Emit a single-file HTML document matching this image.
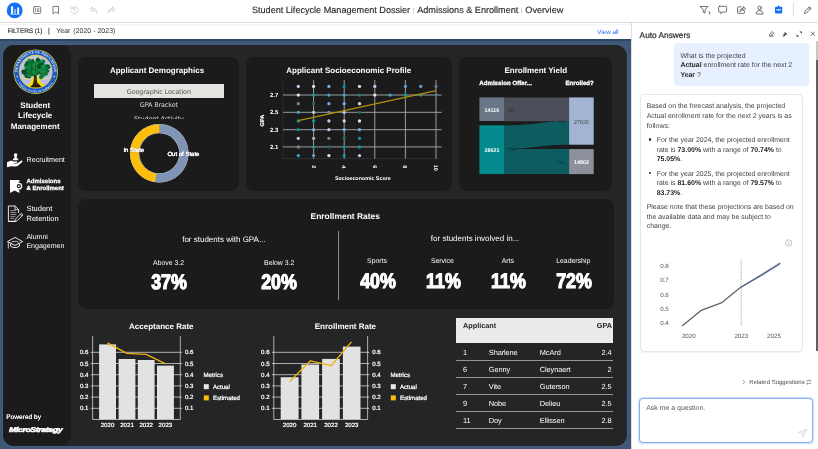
<!DOCTYPE html>
<html lang="en">
<head>
<meta charset="utf-8">
<title>Student Lifecycle Management Dossier</title>
<style>
*{box-sizing:border-box;margin:0;padding:0}
html,body{width:818px;height:449px;overflow:hidden;background:#fff}
body{font-family:"Liberation Sans",Arial,sans-serif;color:#fff;position:relative;text-rendering:geometricPrecision}
.abs{position:absolute}
#top{left:0;top:0;width:818px;height:23px;background:#fff;border-bottom:1px solid #dcdcdc}
#title{left:0;top:0;width:818px;height:22px;line-height:21px;text-align:center;color:#2b2b2b;font-size:9.1px;white-space:nowrap;padding-right:2.8px;-webkit-text-stroke:0.15px #2b2b2b}
#title .sep{color:#a8a8a8;font-size:6px;position:relative;top:-1.2px;padding:0 2.75px;-webkit-text-stroke:0}
#filt{left:0;top:23px;width:631px;height:16px;background:#fff}
#filt .f1{left:7.5px;top:0.6px;line-height:16px;font-size:6.6px;color:#333;letter-spacing:-0.16px;-webkit-text-stroke:0.15px #333}
#filt .f2{left:56.3px;top:0.5px;line-height:16px;font-size:7px;color:#333;white-space:pre}
#filt .va{right:12.3px;top:2.4px;line-height:15px;font-size:6.25px;color:#1f6bf0}
#band{left:0;top:39px;width:631px;height:410px;background:#3f5878}
#band:before{content:"";position:absolute;left:0;top:0;width:100%;height:2px;background:#2d4768}
#dash{left:3.3px;top:45px;width:623.5px;height:401px;background:#232527;border-radius:11px;box-shadow:0 0 0 0.6px #4a648a}
#side{left:3.3px;top:45px;width:67.5px;height:401px;background:#1b1b1b;border-radius:11px}
.panel{background:#1b1b1b;border-radius:8px}
.ttl{font-weight:bold;font-size:8px;text-align:center;white-space:nowrap;line-height:10px}

.sbt{font-weight:bold;font-size:8px;line-height:10.5px;text-align:center;color:#fff}
.nav{color:#fff;white-space:nowrap;line-height:9px}
.navb{color:#fff;white-space:nowrap;font-weight:bold;font-size:6px;line-height:7.5px;-webkit-text-stroke:0.25px #fff}

.sel{font-size:6.5px;text-align:center;white-space:nowrap;font-family:"DejaVu Sans","Liberation Sans",sans-serif;letter-spacing:-0.15px}

.hv{font-weight:bold;font-size:6.05px;letter-spacing:0.05px;line-height:7px;white-space:nowrap;color:#fff;-webkit-text-stroke:0.3px #fff}
.sub{font-size:8px;line-height:10px;text-align:center;white-space:nowrap;color:#fff}
.kl{font-size:6.9px;line-height:8px;text-align:center;white-space:nowrap;color:#fff}
.kv{text-align:center;white-space:nowrap;line-height:24px;height:24px}
.kv span{display:inline-block;font-weight:bold;font-size:21px;transform:scaleX(0.85);-webkit-text-stroke:1.2px #fff;color:#fff;letter-spacing:0px}

.th{font-weight:bold;font-size:7.3px;line-height:9px;color:#222;white-space:nowrap}
.td{font-size:7.4px;line-height:9px;color:#fff;white-space:nowrap;letter-spacing:-0.1px}

.rt{font-size:6.95px;line-height:9.4px;color:#424242;white-space:nowrap}
.rt b{color:#222}
/* right panel */
#rp{left:631px;top:23px;width:187px;height:426px;background:#fff;border-left:1px solid #dedede;color:#333}
</style>
</head>
<body><div id="root" style="position:absolute;left:0;top:0;width:818px;height:449px;will-change:transform">
<!-- top toolbar -->
<div id="top" class="abs"></div>
<div id="title" class="abs">Student Lifecycle Management Dossier<span class="sep">|</span>Admissions &amp; Enrollment<span class="sep">|</span>Overview</div>

<!-- toolbar icons -->
<svg class="abs" style="left:0;top:0" width="125" height="22" viewBox="0 0 125 22">
  <circle cx="14.7" cy="10.4" r="7.9" fill="#1170fa"/>
  <g fill="#fff">
    <rect x="11" y="6.3" width="2.1" height="7.6" rx="0.3"/>
    <rect x="17.2" y="7.4" width="1.9" height="6.5" rx="0.3"/>
    <rect x="14.35" y="9.3" width="1.4" height="1.1"/>
    <rect x="14.35" y="10.9" width="1.4" height="1.1"/>
    <rect x="14.35" y="12.5" width="1.4" height="1.4"/>
    <rect x="10" y="14.1" width="9.8" height="0.55" opacity="0.85"/>
  </g>
  <g stroke="#4a4a4a" stroke-width="0.7" fill="none" stroke-linejoin="round" stroke-linecap="round">
    <rect x="33.5" y="6.6" width="7.2" height="7" rx="1.2"/>
    <path d="M35.4 8.6 V11.6 M37.2 8.8 H38.9 M37.2 10.1 H38.9 M37.2 11.4 H38.9" stroke-width="0.65"/>
    <path d="M53.3 6.5 H58.5 V13.7 L55.9 11.9 L53.3 13.7 Z"/>
  </g>
  <g stroke="#c9c9c9" stroke-width="0.8" fill="none" stroke-linejoin="round" stroke-linecap="round">
    <path d="M71.6 8.4 A 3.5 3.5 0 1 1 71.2 11.6"/>
    <path d="M70.6 6.9 L71.5 8.7 L73.3 8.2"/>
    <path d="M74.5 8.3 V10.3 L76 11.2"/>
    <path d="M92.6 7 L89.9 9.3 L92.6 11.6 V10.2 C94.6 10.2 96 10.9 96.8 12.8 C96.8 10 95.2 8.5 92.6 8.4 Z"/>
    <path d="M112.5 7 L115.2 9.3 L112.5 11.6 V10.2 C110.5 10.2 109.1 10.9 108.3 12.8 C108.3 10 109.9 8.5 112.5 8.4 Z"/>
  </g>
</svg>
<svg class="abs" style="left:693px;top:0" width="125" height="22" viewBox="693 0 125 22">
  <g stroke="#3c3c3c" stroke-width="0.75" fill="none" stroke-linejoin="round" stroke-linecap="round">
    <!-- filter -->
    <path d="M700.4 6.5 H707.8 L705 9.9 V13.2 L703.2 12.2 V9.9 Z"/>
    <!-- comment -->
    <path d="M719.6 6.3 H725.6 Q726.6 6.3 726.6 7.3 V11 Q726.6 12 725.6 12 H722.6 L720.9 13.7 V12 H719.6 Q718.6 12 718.6 11 V7.3 Q718.6 6.3 719.6 6.3 Z"/>
    <!-- share -->
    <path d="M741 6.8 H738.6 Q737.6 6.8 737.6 7.8 V12.4 Q737.6 13.4 738.6 13.4 H743.6 Q744.6 13.4 744.6 12.4 V11.4"/>
    <path d="M740 11.3 C740.2 9.4 741.4 8.3 743.2 8.2 V6.6 L745.6 8.7 L743.2 10.8 V9.4 C741.8 9.4 740.8 10 740 11.3 Z"/>
    <!-- user -->
    <circle cx="759.6" cy="7.9" r="1.75"/>
    <path d="M756.2 13.6 C756.2 11.6 757.6 10.6 759.6 10.6 C761.6 10.6 763 11.6 763 13.6 Z"/>
    <!-- pencil -->
    <path d="M804.6 13.2 L805.1 11.2 L809.6 6.7 L811.1 8.2 L806.6 12.7 Z M808.6 7.7 L810.1 9.2"/>
  </g>
  <text x="708.2" y="14.1" font-family="'Liberation Sans',Arial,sans-serif" font-size="4.2" font-weight="bold" fill="#3c3c3c">1</text>
  <!-- bot (active) -->
  <g fill="#1170fa">
    <rect x="775" y="6.7" width="7.2" height="6.9" rx="1.1"/>
    <rect x="777.8" y="5.7" width="1.6" height="1.4"/>
  </g>
  <rect x="776.5" y="9.1" width="4.2" height="1.5" rx="0.4" fill="#fff"/>
  <rect x="777.1" y="9.5" width="0.8" height="0.7" fill="#1170fa"/><rect x="779.3" y="9.5" width="0.8" height="0.7" fill="#1170fa"/>
  <line x1="793.4" y1="3" x2="793.4" y2="16.6" stroke="#c8c8c8" stroke-width="0.7"/>
</svg>
<!-- filter bar -->
<div id="filt" class="abs">
  <div class="abs f1">FILTERS (1)</div>
  <div class="abs f1" style="left:48px;font-size:7px">|</div>
  <div class="abs f2">Year<span style="margin-left:2.9px">(2020 - 2023)</span></div>
  <div class="abs va">View all</div>
</div>
<div class="abs" style="left:0;top:23.5px;width:818px;height:2px;background:linear-gradient(rgba(0,0,0,0.06),rgba(0,0,0,0))"></div>
<div id="band" class="abs"></div>
<div id="dash" class="abs"></div>
<div id="side" class="abs"></div>


<!-- sidebar content -->
<svg class="abs" style="left:4px;top:45px" width="67" height="60" viewBox="4 45 67 60">
  <defs>
    <clipPath id="sealclip"><circle cx="35.7" cy="71.7" r="16.2"/></clipPath>
    <path id="arcTop" d="M 17.3 71.7 A 18.4 18.4 0 0 1 54.1 71.7"/>
    <path id="arcBot" d="M 14.9 71.7 A 20.8 20.8 0 0 0 56.5 71.7"/>
  </defs>
  <circle cx="35.7" cy="71.7" r="22.3" fill="#e6d326"/>
  <circle cx="35.7" cy="71.7" r="21.6" fill="#1d5cc4"/>
  <circle cx="35.7" cy="71.7" r="16.9" fill="#e6d326"/>
  <circle cx="35.7" cy="71.7" r="16.2" fill="#bcbcea"/>
  <g clip-path="url(#sealclip)">
    <line x1="35.7" y1="80" x2="19.4" y2="77.7" stroke="#f3e36a" stroke-width="0.9"/><line x1="35.7" y1="80" x2="20.5" y2="70.3" stroke="#f3e36a" stroke-width="0.9"/><line x1="35.7" y1="80" x2="23.0" y2="63.6" stroke="#f3e36a" stroke-width="0.9"/><line x1="35.7" y1="80" x2="26.5" y2="58.4" stroke="#f3e36a" stroke-width="0.9"/><line x1="35.7" y1="80" x2="30.9" y2="55.1" stroke="#f3e36a" stroke-width="0.9"/><line x1="35.7" y1="80" x2="35.7" y2="54.0" stroke="#f3e36a" stroke-width="0.9"/><line x1="35.7" y1="80" x2="40.5" y2="55.1" stroke="#f3e36a" stroke-width="0.9"/><line x1="35.7" y1="80" x2="44.9" y2="58.4" stroke="#f3e36a" stroke-width="0.9"/><line x1="35.7" y1="80" x2="48.4" y2="63.6" stroke="#f3e36a" stroke-width="0.9"/><line x1="35.7" y1="80" x2="50.9" y2="70.3" stroke="#f3e36a" stroke-width="0.9"/><line x1="35.7" y1="80" x2="52.0" y2="77.7" stroke="#f3e36a" stroke-width="0.9"/>
    <path d="M 26 88 L 34.6 76 L 37 76 L 45.6 88 Z" fill="#f2dc0c"/>
    <path d="M 29.6 87.4 L 33.6 83.4 L 38.2 83.4 L 42.2 87.4 Z" fill="#241c06"/>
    <path d="M 33.6 84 C 35 80 35.2 76 33.4 71.5 L 31 67 M 35.2 76 C 36.4 72.5 38.4 70 41.5 67.5 M 34.8 74 L 35.6 64" stroke="#3b2a10" stroke-width="1.5" fill="none" stroke-linecap="round"/>
    <path d="M 33 85 C 34.6 81 34.8 78 34 74.5 L 36.8 74.5 C 36.4 78 36.8 81.5 38.2 85 Z" fill="#33260c"/>
    <circle cx="28.0" cy="62.9" r="2.2" fill="#064a24"/><circle cx="44.1" cy="70.0" r="2.3" fill="#0b8a3c"/><circle cx="38.9" cy="67.0" r="1.9" fill="#0a8038"/><circle cx="33.1" cy="70.7" r="1.7" fill="#0a8038"/><circle cx="31.6" cy="70.9" r="2.3" fill="#0c8c40"/><circle cx="41.9" cy="76.2" r="1.6" fill="#0a5a2c"/><circle cx="36.1" cy="69.0" r="2.3" fill="#0a8038"/><circle cx="37.6" cy="59.1" r="1.6" fill="#08743a"/><circle cx="32.7" cy="74.3" r="2.0" fill="#0a8038"/><circle cx="41.0" cy="77.7" r="1.7" fill="#0c8c40"/><circle cx="33.6" cy="70.2" r="1.6" fill="#08743a"/><circle cx="35.2" cy="70.2" r="2.2" fill="#0b8a3c"/><circle cx="27.1" cy="64.1" r="1.6" fill="#066432"/><circle cx="39.4" cy="62.7" r="1.8" fill="#0a5a2c"/><circle cx="30.9" cy="69.5" r="1.7" fill="#0b8a3c"/><circle cx="42.7" cy="67.0" r="1.9" fill="#064a24"/><circle cx="37.5" cy="63.2" r="2.0" fill="#0b8a3c"/><circle cx="25.7" cy="71.2" r="2.1" fill="#0a8038"/><circle cx="40.1" cy="71.9" r="2.2" fill="#0a5a2c"/><circle cx="31.8" cy="73.5" r="2.0" fill="#0a5a2c"/><circle cx="44.3" cy="74.2" r="2.2" fill="#0f9a48"/><circle cx="47.9" cy="71.0" r="1.6" fill="#066432"/><circle cx="28.5" cy="68.3" r="1.6" fill="#0f9a48"/><circle cx="43.9" cy="65.5" r="1.8" fill="#066432"/><circle cx="31.9" cy="73.1" r="2.1" fill="#0f9a48"/><circle cx="40.5" cy="68.7" r="1.5" fill="#064a24"/><circle cx="37.5" cy="68.1" r="2.2" fill="#066432"/><circle cx="39.6" cy="63.0" r="1.9" fill="#0b8a3c"/><circle cx="45.7" cy="67.8" r="2.2" fill="#066432"/><circle cx="38.0" cy="66.0" r="2.2" fill="#08743a"/><circle cx="28.1" cy="62.4" r="1.6" fill="#0c8c40"/><circle cx="33.9" cy="70.3" r="1.9" fill="#08743a"/><circle cx="23.6" cy="71.7" r="2.3" fill="#064a24"/><circle cx="27.5" cy="70.7" r="2.2" fill="#0a5a2c"/><circle cx="34.5" cy="71.3" r="2.3" fill="#0e9645"/><circle cx="26.7" cy="75.7" r="2.4" fill="#0a5a2c"/><circle cx="39.2" cy="65.9" r="1.9" fill="#064a24"/><circle cx="38.2" cy="59.7" r="1.8" fill="#066432"/><circle cx="32.3" cy="61.3" r="2.2" fill="#066432"/><circle cx="26.2" cy="65.9" r="2.3" fill="#0f9a48"/><circle cx="37.1" cy="60.7" r="1.8" fill="#066432"/><circle cx="30.2" cy="62.8" r="1.5" fill="#064a24"/><circle cx="36.8" cy="63.5" r="1.7" fill="#0f9a48"/><circle cx="39.9" cy="61.6" r="2.2" fill="#066432"/><circle cx="34.7" cy="70.3" r="2.3" fill="#0c8c40"/><circle cx="28.9" cy="76.2" r="2.3" fill="#0a5a2c"/><circle cx="48.2" cy="67.3" r="2.0" fill="#064a24"/><circle cx="41.0" cy="68.3" r="1.8" fill="#0a5a2c"/><circle cx="35.2" cy="71.2" r="2.1" fill="#0c8c40"/><circle cx="41.1" cy="76.5" r="2.0" fill="#0c8c40"/><circle cx="32.8" cy="71.6" r="2.3" fill="#0f9a48"/><circle cx="35.5" cy="67.4" r="1.6" fill="#0a5a2c"/><circle cx="32.2" cy="66.1" r="2.2" fill="#08743a"/><circle cx="34.3" cy="67.5" r="1.9" fill="#0a8038"/><circle cx="41.9" cy="76.9" r="1.6" fill="#08743a"/><circle cx="26.7" cy="69.6" r="1.9" fill="#066432"/><circle cx="28.7" cy="74.0" r="2.0" fill="#0a8038"/><circle cx="34.3" cy="63.1" r="1.8" fill="#0f9a48"/><circle cx="43.1" cy="61.5" r="2.1" fill="#064a24"/><circle cx="34.4" cy="69.9" r="2.1" fill="#0e9645"/><circle cx="33.3" cy="71.4" r="2.4" fill="#0f9a48"/><circle cx="46.9" cy="66.5" r="1.9" fill="#064a24"/><circle cx="32.8" cy="71.3" r="2.0" fill="#0a5a2c"/><circle cx="47.9" cy="66.2" r="2.0" fill="#066432"/><circle cx="40.2" cy="61.6" r="1.8" fill="#066432"/><circle cx="26.8" cy="65.7" r="1.6" fill="#0c8c40"/><circle cx="24.4" cy="73.0" r="1.9" fill="#0a5a2c"/><circle cx="43.2" cy="67.8" r="2.4" fill="#08743a"/><circle cx="30.8" cy="66.1" r="2.4" fill="#0a5a2c"/><circle cx="35.8" cy="70.0" r="2.4" fill="#0f9a48"/><circle cx="29.4" cy="69.1" r="1.9" fill="#0e9645"/><circle cx="29.1" cy="60.5" r="1.7" fill="#0b8a3c"/><circle cx="38.1" cy="60.0" r="1.5" fill="#064a24"/><circle cx="30.3" cy="67.1" r="1.9" fill="#0b8a3c"/><circle cx="36.0" cy="73.6" r="1.6" fill="#0f9a48"/><circle cx="33.2" cy="72.1" r="1.9" fill="#0e9645"/><circle cx="39.9" cy="69.1" r="1.8" fill="#066432"/><circle cx="27.7" cy="63.3" r="1.5" fill="#066432"/><circle cx="28.8" cy="75.3" r="2.0" fill="#0b8a3c"/><circle cx="45.0" cy="68.9" r="2.1" fill="#0e9645"/><circle cx="42.8" cy="64.2" r="1.5" fill="#0c8c40"/><circle cx="27.2" cy="64.2" r="2.4" fill="#0a5a2c"/><circle cx="43.1" cy="61.7" r="1.9" fill="#0a8038"/><circle cx="42.6" cy="64.9" r="2.2" fill="#0f9a48"/><circle cx="41.2" cy="61.8" r="1.9" fill="#0f9a48"/><circle cx="30.8" cy="63.5" r="1.8" fill="#08743a"/><circle cx="26.7" cy="69.8" r="1.9" fill="#066432"/><circle cx="28.0" cy="67.3" r="2.0" fill="#0b8a3c"/><circle cx="41.0" cy="70.7" r="2.2" fill="#0e9645"/><circle cx="34.9" cy="67.7" r="2.2" fill="#0e9645"/><circle cx="46.3" cy="68.7" r="1.5" fill="#0e9645"/><circle cx="37.7" cy="72.5" r="2.4" fill="#08743a"/><circle cx="46.4" cy="68.5" r="1.9" fill="#08743a"/><circle cx="29.7" cy="64.9" r="1.6" fill="#0a8038"/><circle cx="39.4" cy="69.6" r="1.8" fill="#0e9645"/><circle cx="34.0" cy="72.0" r="1.6" fill="#0c8c40"/><circle cx="38.9" cy="66.5" r="1.9" fill="#066432"/><circle cx="32.4" cy="62.6" r="1.8" fill="#066432"/><circle cx="39.5" cy="67.1" r="1.8" fill="#064a24"/><circle cx="32.7" cy="74.2" r="2.0" fill="#0a8038"/><circle cx="35.0" cy="72.0" r="1.7" fill="#0f9a48"/><circle cx="31.6" cy="68.4" r="1.7" fill="#066432"/><circle cx="28.5" cy="70.5" r="1.6" fill="#0b8a3c"/><circle cx="33.9" cy="66.7" r="2.1" fill="#0e9645"/><circle cx="41.6" cy="63.6" r="1.9" fill="#0c8c40"/><circle cx="41.9" cy="64.1" r="1.8" fill="#064a24"/><circle cx="46.3" cy="70.3" r="1.5" fill="#08743a"/><circle cx="43.4" cy="66.7" r="2.2" fill="#0e9645"/><circle cx="46.3" cy="73.6" r="1.9" fill="#0a8038"/><circle cx="42.1" cy="74.7" r="1.8" fill="#0a8038"/>
    <path d="M 27 69 L 33 74.5 M 43.5 68 L 37 74.5 M 35.6 63 L 35.4 73 M 31 64 L 34.6 70 M 40 63.5 L 36.4 70 M 24.5 73 L 31 73.6 M 46 72.5 L 39.5 73.6" stroke="#2e2a10" stroke-width="0.6" fill="none" stroke-linecap="round" opacity="0.8"/>
  </g>
  <text font-family="'Liberation Serif',serif" font-size="3.7" font-weight="bold" fill="#eef2ff" letter-spacing="0.12"><textPath href="#arcTop" startOffset="50%" text-anchor="middle">DEPARTMENT OF EDUCATION</textPath></text>
  <text font-family="'Liberation Serif',serif" font-size="2.6" font-weight="bold" fill="#e4eaff" letter-spacing="0.1"><textPath href="#arcBot" startOffset="50%" text-anchor="middle">UNITED STATES OF AMERICA</textPath></text>
  <circle cx="17.2" cy="76.5" r="0.7" fill="#e8ecff"/><circle cx="54.2" cy="76.5" r="0.7" fill="#e8ecff"/>
</svg>
<div class="abs sbt" style="left:3.2px;top:100.8px;width:64px">Student<br>Lifecycle<br>Management</div>

<!-- nav: recruitment -->
<svg class="abs" style="left:6px;top:152px" width="18" height="16" viewBox="6 152 18 16">
  <circle cx="15.6" cy="155" r="1.75" fill="#fff"/>
  <path d="M14.7 156 L16.5 156 L16.9 158.6 L18.2 158.6 L18.2 160.3 L13 160.3 L13 158.6 L14.3 158.6 Z" fill="#fff"/>
  <path d="M6.9 162.2 L9.4 161.2 C11 160.6 12.4 160.8 13.6 161.4 L16.6 161.4 C17.6 161.5 17.6 162.9 16.6 163 L13.6 163 L13.6 163.5 L17.2 163.4 L21 160.7 C22 160.1 23 161.2 22.2 162 L18.2 165.6 C17.4 166.3 16.6 166.5 15.6 166.5 L11.2 166.3 L7 167.2 Z" fill="#fff"/>
</svg>
<div class="abs nav" style="left:26.6px;top:156px;font-size:7.1px">Recruitment</div>

<!-- nav: admissions -->
<svg class="abs" style="left:9px;top:179px" width="15" height="15" viewBox="9 179 15 15">
  <path d="M10 179.9 L19.4 179.9 L19.4 182.0 A 4.45 4.45 0 0 0 19.4 190.4 L19.4 193.1 L14.7 190.6 L10 193.1 Z" fill="#fff"/>
  <circle cx="18.8" cy="186.2" r="2.8" fill="none" stroke="#fff" stroke-width="1.3"/>
  <circle cx="18.8" cy="186.2" r="0.9" fill="#fff"/>
</svg>
<div class="abs navb" style="left:26.5px;top:178.7px">Admissions<br>&amp; Enrollment</div>

<!-- nav: student retention -->
<svg class="abs" style="left:7px;top:204px" width="18" height="19" viewBox="7 204 18 19">
  <path d="M8.4 206 L15.2 206 L18.6 209.4 L18.6 213 M15.4 221.4 L8.4 221.4 Z M8.4 221.4 L8.4 206" stroke="#fff" stroke-width="0.9" fill="none" stroke-linejoin="round"/>
  <path d="M15 206.2 L15 209.6 L18.4 209.6" stroke="#fff" stroke-width="0.8" fill="none"/>
  <path d="M10.4 210.6 H15.6 M10.4 212.6 H16.4 M10.4 214.6 H16.4 M10.4 216.6 H15.4 M10.4 218.6 H14" stroke="#9a9a9a" stroke-width="0.95"/>
  <path d="M15.3 219.2 L21.2 213.3 L22.9 215 L17 220.9 L14.8 221.5 Z" fill="#1b1b1b" stroke="#fff" stroke-width="0.85" stroke-linejoin="round"/>
  <path d="M20.2 214.4 L21.8 216" stroke="#fff" stroke-width="0.7"/>
</svg>
<div class="abs nav" style="left:26.5px;top:203.9px;font-size:7.5px;line-height:10.1px">Student<br>Retention</div>

<!-- nav: alumni -->
<svg class="abs" style="left:6px;top:236px" width="18" height="14" viewBox="6 236 18 14">
  <path d="M7.4 241.6 L15 237.4 L22.7 241.6 L15 245.4 Z" stroke="#fff" stroke-width="0.9" fill="none" stroke-linejoin="round"/>
  <path d="M10.6 243.6 L10.6 246.2 C12.6 248 17.4 248 19.4 246.2 L19.4 243.6" stroke="#fff" stroke-width="0.9" fill="none"/>
  <path d="M11.4 242.2 C13.4 241 16.6 241 18.6 242.2" stroke="#fff" stroke-width="0.7" fill="none"/>
  <path d="M8.3 242.2 L8.3 248.6" stroke="#fff" stroke-width="0.8"/>
</svg>
<div class="abs nav" style="left:26.4px;top:232.8px;font-size:7.05px;line-height:9px;width:37.8px;overflow:hidden">Alumni<br>Engagement</div>

<div class="abs" style="left:6.2px;top:413.6px;font-size:6.6px;line-height:8px;color:#fff;text-shadow:0 0 0.4px #fff">Powered by</div>
<div class="abs" style="left:8.8px;top:425.6px;font-size:6.9px;line-height:9px;font-weight:bold;font-style:italic;letter-spacing:-0.35px;color:#fff;-webkit-text-stroke:0.5px #fff;transform:scaleX(1.285);transform-origin:0 0;white-space:nowrap">MicroStrategy</div>

<!-- panels -->
<div class="abs panel" style="left:78px;top:57.1px;width:161px;height:133.9px" id="p1"></div>
<div class="abs panel" style="left:246.1px;top:57.1px;width:205.5px;height:133.9px" id="p2"></div>
<div class="abs panel" style="left:459px;top:57.1px;width:153.1px;height:133.9px" id="p3"></div>
<div class="abs panel" style="left:78px;top:199px;width:535.5px;height:110px" id="p4"></div>


<!-- panel 1: applicant demographics -->
<div class="abs ttl" style="left:76.5px;top:65.6px;width:161px">Applicant Demographics</div>
<div class="abs" style="left:94px;top:84.3px;width:129.7px;height:13.4px;background:#e3e3df"></div>
<div class="abs sel" style="left:94px;top:85.7px;width:129.7px;height:13.4px;line-height:13.4px;color:#555">Geographic Location</div>
<div class="abs sel" style="left:94px;top:99.1px;width:129.7px;height:13.4px;line-height:13.4px;color:#d8d8d8">GPA Bracket</div>
<div class="abs sel" style="left:94px;top:112.5px;width:129.7px;height:6.7px;line-height:13.4px;color:#d8d8d8;overflow:hidden">Student Activity</div>
<svg class="abs" style="left:120px;top:120px" width="90" height="66" viewBox="120 120 90 66">
  <circle cx="159.3" cy="153.3" r="29.3" fill="#c9d2e2"/>
  <circle cx="159.3" cy="153.3" r="20.2" fill="#c9d2e2"/>
  <circle cx="159.3" cy="153.3" r="24.75" fill="none" stroke="#8094b6" stroke-width="8.7"/>
  <path d="M 159.3 128.55 A 24.75 24.75 0 0 0 155.7 177.8" fill="none" stroke="#fdbe0c" stroke-width="8.7"/>
  <circle cx="159.3" cy="153.3" r="20.0" fill="#1b1b1b"/>
  <g font-family="'Liberation Sans',Arial,sans-serif" font-size="6" fill="#fff" style="paint-order:stroke;stroke:#1b1b1b;stroke-width:0.7px;stroke-opacity:0.35">
    <text x="133.8" y="151.6" text-anchor="middle">In State</text>
    <text x="183.4" y="156.4" text-anchor="middle">Out of State</text>
  </g>
  <g font-family="'Liberation Sans',Arial,sans-serif" font-size="6" fill="#fff" stroke="#fff" stroke-width="0.22">
    <text x="133.8" y="151.6" text-anchor="middle">In State</text>
    <text x="183.4" y="156.4" text-anchor="middle">Out of State</text>
  </g>
</svg>


<!-- panel 2: socioeconomic profile -->
<div class="abs ttl" style="left:246px;top:65.6px;width:205.5px">Applicant Socioeconomic Profile</div>
<svg class="abs" style="left:246px;top:76px" width="205" height="112" viewBox="246 76 205 112">
  <path d="M283 80 V158.6 H441.7" stroke="#353535" stroke-width="0.7" fill="none"/>
  <g stroke="#9c9c9c" stroke-width="1"><line x1="283" y1="95.0" x2="441.7" y2="95.0"/><line x1="283" y1="112.3" x2="441.7" y2="112.3"/><line x1="283" y1="129.7" x2="441.7" y2="129.7"/><line x1="283" y1="146.9" x2="441.7" y2="146.9"/><line x1="313.6" y1="80" x2="313.6" y2="158.8"/><line x1="344.2" y1="80" x2="344.2" y2="158.8"/><line x1="374.8" y1="80" x2="374.8" y2="158.8"/><line x1="405.4" y1="80" x2="405.4" y2="158.8"/><line x1="436.0" y1="80" x2="436.0" y2="158.8"/></g>
  <g><circle cx="298.3" cy="86.4" r="1.65" fill="#b5d0ec"/><circle cx="298.3" cy="95.1" r="1.65" fill="#e4e6e8"/><circle cx="298.3" cy="103.7" r="1.65" fill="#6e8799"/><circle cx="298.3" cy="112.3" r="1.65" fill="#3aa6c8"/><circle cx="298.3" cy="121.0" r="1.65" fill="#149a9a"/><circle cx="298.3" cy="129.7" r="1.65" fill="#148a8a"/><circle cx="298.3" cy="138.3" r="1.65" fill="#b5d0ec"/><circle cx="298.3" cy="147.0" r="1.65" fill="#6e8799"/><circle cx="298.3" cy="155.6" r="1.65" fill="#3aa6c8"/><circle cx="313.6" cy="86.4" r="1.65" fill="#e4e6e8"/><circle cx="313.6" cy="95.1" r="1.65" fill="#149a9a"/><circle cx="313.6" cy="103.7" r="1.65" fill="#1a6a72"/><circle cx="313.6" cy="112.3" r="1.65" fill="#b5d0ec"/><circle cx="313.6" cy="121.0" r="1.65" fill="#149a9a"/><circle cx="313.6" cy="129.7" r="1.65" fill="#6faee6"/><circle cx="313.6" cy="138.3" r="1.65" fill="#9fb4c8"/><circle cx="313.6" cy="147.0" r="1.65" fill="#149a9a"/><circle cx="313.6" cy="155.6" r="1.65" fill="#5a9fd8"/><circle cx="328.9" cy="86.4" r="1.65" fill="#6faee6"/><circle cx="328.9" cy="95.1" r="1.65" fill="#3aa6c8"/><circle cx="328.9" cy="103.7" r="1.65" fill="#6faee6"/><circle cx="328.9" cy="112.3" r="1.65" fill="#6e8799"/><circle cx="328.9" cy="121.0" r="1.65" fill="#b5d0ec"/><circle cx="328.9" cy="129.7" r="1.65" fill="#b5d0ec"/><circle cx="328.9" cy="138.3" r="1.65" fill="#6e8799"/><circle cx="328.9" cy="147.0" r="1.65" fill="#1a6a72"/><circle cx="328.9" cy="155.6" r="1.65" fill="#e4e6e8"/><circle cx="344.2" cy="86.4" r="1.65" fill="#148a8a"/><circle cx="344.2" cy="95.1" r="1.65" fill="#3aa6c8"/><circle cx="344.2" cy="103.7" r="1.65" fill="#6faee6"/><circle cx="344.2" cy="112.3" r="1.65" fill="#b5d0ec"/><circle cx="344.2" cy="121.0" r="1.65" fill="#d8d8d8"/><circle cx="344.2" cy="129.7" r="1.65" fill="#6faee6"/><circle cx="344.2" cy="138.3" r="1.65" fill="#1a6a72"/><circle cx="344.2" cy="147.0" r="1.65" fill="#148a8a"/><circle cx="344.2" cy="155.6" r="1.65" fill="#149a9a"/><circle cx="359.5" cy="86.4" r="1.65" fill="#d8d8d8"/><circle cx="359.5" cy="95.1" r="1.65" fill="#148a8a"/><circle cx="359.5" cy="103.7" r="1.65" fill="#d8d8d8"/><circle cx="359.5" cy="112.3" r="1.65" fill="#1a6a72"/><circle cx="359.5" cy="121.0" r="1.65" fill="#e4e6e8"/><circle cx="359.5" cy="129.7" r="1.65" fill="#6faee6"/><circle cx="359.5" cy="138.3" r="1.65" fill="#149a9a"/><circle cx="359.5" cy="147.0" r="1.65" fill="#149a9a"/><circle cx="359.5" cy="155.6" r="1.65" fill="#b5d0ec"/><circle cx="374.8" cy="86.4" r="1.65" fill="#b5d0ec"/><circle cx="374.8" cy="95.1" r="1.65" fill="#e4e6e8"/><circle cx="390.1" cy="95.1" r="1.65" fill="#3aa6c8"/><circle cx="405.4" cy="86.4" r="1.65" fill="#5a9fd8"/><circle cx="405.4" cy="95.1" r="1.65" fill="#149a9a"/><circle cx="420.7" cy="86.4" r="1.65" fill="#5a9fd8"/><circle cx="420.7" cy="95.1" r="1.65" fill="#149a9a"/><circle cx="436.0" cy="86.4" r="1.65" fill="#5a7890"/><circle cx="436.0" cy="95.1" r="1.65" fill="#5a7890"/></g>
  <line x1="298.3" y1="120.6" x2="436.0" y2="90.6" stroke="#b18f0c" stroke-width="1.1"/>
  <g font-family="'Liberation Sans',Arial,sans-serif" font-weight="bold" font-size="6" fill="#fff"><text x="278.3" y="97.1" text-anchor="end">2.7</text><text x="278.3" y="114.4" text-anchor="end">2.5</text><text x="278.3" y="131.8" text-anchor="end">2.3</text><text x="278.3" y="149.0" text-anchor="end">2.1</text></g>
  <g font-family="'Liberation Sans',Arial,sans-serif" font-weight="bold" font-size="5.4" fill="#fff"><text transform="translate(311.6,166.8) rotate(90)" text-anchor="middle">2</text><text transform="translate(342.2,166.8) rotate(90)" text-anchor="middle">4</text><text transform="translate(372.8,166.8) rotate(90)" text-anchor="middle">6</text><text transform="translate(403.4,166.8) rotate(90)" text-anchor="middle">8</text><text transform="translate(434.0,167.8) rotate(90)" text-anchor="middle">10</text>
    <text transform="translate(263.9,120.6) rotate(-90)" text-anchor="middle" font-size="5.6" stroke="#fff" stroke-width="0.15">GPA</text>
    <text x="362.8" y="179.9" text-anchor="middle" font-size="5.35">Socioeconomic Score</text>
  </g>
</svg>


<!-- panel 3: enrollment yield -->
<div class="abs ttl" style="left:459px;top:65.6px;width:153.5px">Enrollment Yield</div>
<div class="abs hv" style="left:479.3px;top:81px">Admission Offer...</div>
<div class="abs hv" style="left:540px;top:81px;width:53.8px;text-align:right">Enrolled?</div>
<svg class="abs" style="left:476px;top:94px" width="122" height="84" viewBox="476 94 122 84">
  <!-- flows -->
  <path d="M504.4 97.4 H569.1 V121.2 H504.4 Z" fill="#4a4f59"/>
  <path d="M504.4 125.3 C 536 125.3 538 121.2 569.1 121.2 V144.7 C 538 144.7 536 148.7 504.4 148.7 Z" fill="#0c5c60"/>
  <path d="M504.4 149.1 H569.1 V174.1 H504.4 Z" fill="#0c5c60"/>
  <!-- nodes -->
  <rect x="479.4" y="97.4" width="25" height="23.6" fill="#6b7686"/>
  <rect x="479.4" y="125.3" width="25" height="48.8" fill="#038b8d"/>
  <rect x="569.1" y="97.4" width="24.6" height="47.3" fill="#a1b5d2"/>
  <rect x="569.1" y="149.1" width="24.6" height="25" fill="#8b909a"/>
  <g font-family="'Liberation Sans',Arial,sans-serif" font-size="5.4">
    <text x="491.9" y="111.6" text-anchor="middle" fill="#fff" font-weight="bold">14116</text>
    <text x="491.9" y="151.6" text-anchor="middle" fill="#fff" font-weight="bold">28621</text>
    <text x="581.4" y="123.6" text-anchor="middle" fill="#3c434e">27935</text>
    <text x="581.4" y="163.6" text-anchor="middle" fill="#fff" font-weight="bold">14802</text>
    <text x="508.2" y="111.6" fill="#2c3037">No</text>
    <text x="508.2" y="151.4" fill="#073c40">Yes</text>
    <text x="565.4" y="123.4" fill="#2c3037" text-anchor="end">No</text>
    <text x="565.4" y="163.8" fill="#073c40" text-anchor="end">Yes</text>
  </g>
</svg>

<!-- panel 4: enrollment rates -->
<div class="abs ttl" style="left:78px;top:210.5px;width:534.5px;font-size:8.45px">Enrollment Rates</div>
<div class="abs sub" style="left:113.3px;top:234.6px;width:221.2px">for students with GPA...</div>
<div class="abs sub" style="left:344.3px;top:233.8px;width:261.6px">for students involved in...</div>
<div class="abs" style="left:338px;top:231px;width:0.9px;height:68.5px;background:#8c8c8c"></div>
<div class="abs kl" style="left:113.3px;top:260.1px;width:110.6px">Above 3.2</div>
<div class="abs kl" style="left:223.9px;top:260.1px;width:110.6px">Below 3.2</div>
<div class="abs kv" style="left:113.3px;top:270.8px;width:110.6px"><span>37%</span></div>
<div class="abs kv" style="left:223.9px;top:270.8px;width:110.6px"><span>20%</span></div>
<div class="abs kl" style="left:344.3px;top:258.1px;width:65.4px">Sports</div>
<div class="abs kl" style="left:409.7px;top:258.1px;width:65.4px">Service</div>
<div class="abs kl" style="left:475.1px;top:258.1px;width:65.4px">Arts</div>
<div class="abs kl" style="left:540.5px;top:258.1px;width:65.4px">Leadership</div>
<div class="abs kv" style="left:345.0px;top:269.9px;width:65.4px"><span>40%</span></div>
<div class="abs kv" style="left:410.4px;top:269.9px;width:65.4px"><span>11%</span></div>
<div class="abs kv" style="left:475.8px;top:269.9px;width:65.4px"><span>11%</span></div>
<div class="abs kv" style="left:541.2px;top:269.9px;width:65.4px"><span>72%</span></div>

<!-- bottom charts -->
<div class="abs ttl" style="left:111.30000000000001px;top:322.2px;width:100px">Acceptance Rate</div>
<svg class="abs" style="left:76px;top:332px" width="172" height="100" viewBox="76 332 172 100">
<g stroke="#c8c8c8" stroke-width="0.85"><line x1="90.69999999999999" y1="408.3" x2="182.20000000000002" y2="408.3"/><line x1="90.69999999999999" y1="397.1" x2="182.20000000000002" y2="397.1"/><line x1="90.69999999999999" y1="385.9" x2="182.20000000000002" y2="385.9"/><line x1="90.69999999999999" y1="374.7" x2="182.20000000000002" y2="374.7"/><line x1="90.69999999999999" y1="363.5" x2="182.20000000000002" y2="363.5"/><line x1="90.69999999999999" y1="352.3" x2="182.20000000000002" y2="352.3"/></g>
<path d="M92.6 336 V419.5 H180.3 V336" stroke="#d0d0d0" stroke-width="0.8" fill="none"/>
<rect x="99.1" y="344.4" width="16.9" height="74.9" fill="#e2e2e2"/>
<rect x="118.6" y="359.0" width="16.8" height="60.3" fill="#e2e2e2"/>
<rect x="137.8" y="360.0" width="16.8" height="59.3" fill="#e2e2e2"/>
<rect x="157.0" y="365.6" width="16.9" height="53.7" fill="#e2e2e2"/>
<polyline points="107.5,342.9 126.9,353.4 146.1,354.4 165.7,363.8" fill="none" stroke="#ecb30b" stroke-width="1.35" stroke-linejoin="round"/>
<g font-family="'Liberation Sans',Arial,sans-serif" font-size="6.1" fill="#fff" style="paint-order:stroke;stroke:#fff;stroke-width:0.22px"><text x="88.39999999999999" y="410.4" text-anchor="end">0.1</text><text x="184.9" y="410.4">0.1</text><text x="88.39999999999999" y="399.2" text-anchor="end">0.2</text><text x="184.9" y="399.2">0.2</text><text x="88.39999999999999" y="388.0" text-anchor="end">0.3</text><text x="184.9" y="388.0">0.3</text><text x="88.39999999999999" y="376.8" text-anchor="end">0.4</text><text x="184.9" y="376.8">0.4</text><text x="88.39999999999999" y="365.6" text-anchor="end">0.5</text><text x="184.9" y="365.6">0.5</text><text x="88.39999999999999" y="354.4" text-anchor="end">0.6</text><text x="184.9" y="354.4">0.6</text><text x="107.5" y="427.4" text-anchor="middle">2020</text><text x="127.0" y="427.4" text-anchor="middle">2021</text><text x="146.2" y="427.4" text-anchor="middle">2022</text><text x="165.4" y="427.4" text-anchor="middle">2023</text><text x="203.4" y="377.4">Metrics</text><text x="212.9" y="388.8">Actual</text><text x="212.9" y="400">Estimated</text></g>
<rect x="203.8" y="384.2" width="5" height="5" fill="#e8e8e8"/><rect x="203.8" y="395.4" width="5" height="5" fill="#fbbc0e"/>
</svg>
<div class="abs ttl" style="left:295.4px;top:322.2px;width:100px">Enrollment Rate</div>
<svg class="abs" style="left:258px;top:332px" width="172" height="100" viewBox="258 332 172 100">
<g stroke="#c8c8c8" stroke-width="0.85"><line x1="271.90000000000003" y1="408.3" x2="369.5" y2="408.3"/><line x1="271.90000000000003" y1="397.1" x2="369.5" y2="397.1"/><line x1="271.90000000000003" y1="385.9" x2="369.5" y2="385.9"/><line x1="271.90000000000003" y1="374.7" x2="369.5" y2="374.7"/><line x1="271.90000000000003" y1="363.5" x2="369.5" y2="363.5"/><line x1="271.90000000000003" y1="352.3" x2="369.5" y2="352.3"/></g>
<path d="M273.8 336 V419.5 H367.6 V336" stroke="#d0d0d0" stroke-width="0.8" fill="none"/>
<rect x="280.7" y="377.2" width="17.9" height="42.1" fill="#e2e2e2"/>
<rect x="301.4" y="364.5" width="17.7" height="54.8" fill="#e2e2e2"/>
<rect x="322.1" y="358.9" width="17.7" height="60.4" fill="#e2e2e2"/>
<rect x="342.9" y="346.6" width="17.6" height="72.7" fill="#e2e2e2"/>
<polyline points="289.6,381.5 310.4,360.8 331.1,365.7 351.5,341.9" fill="none" stroke="#ecb30b" stroke-width="1.35" stroke-linejoin="round"/>
<g font-family="'Liberation Sans',Arial,sans-serif" font-size="6.1" fill="#fff" style="paint-order:stroke;stroke:#fff;stroke-width:0.22px"><text x="269.6" y="410.4" text-anchor="end">0.1</text><text x="372.20000000000005" y="410.4">0.1</text><text x="269.6" y="399.2" text-anchor="end">0.2</text><text x="372.20000000000005" y="399.2">0.2</text><text x="269.6" y="388.0" text-anchor="end">0.3</text><text x="372.20000000000005" y="388.0">0.3</text><text x="269.6" y="376.8" text-anchor="end">0.4</text><text x="372.20000000000005" y="376.8">0.4</text><text x="269.6" y="365.6" text-anchor="end">0.5</text><text x="372.20000000000005" y="365.6">0.5</text><text x="269.6" y="354.4" text-anchor="end">0.6</text><text x="372.20000000000005" y="354.4">0.6</text><text x="289.6" y="427.4" text-anchor="middle">2020</text><text x="310.2" y="427.4" text-anchor="middle">2021</text><text x="331.0" y="427.4" text-anchor="middle">2022</text><text x="351.7" y="427.4" text-anchor="middle">2023</text><text x="390.4" y="377.4">Metrics</text><text x="399.9" y="388.8">Actual</text><text x="399.9" y="400">Estimated</text></g>
<rect x="390.79999999999995" y="384.2" width="5" height="5" fill="#e8e8e8"/><rect x="390.79999999999995" y="395.4" width="5" height="5" fill="#fbbc0e"/>
</svg>
<!-- table -->
<div class="abs" style="left:456px;top:318.4px;width:157px;height:25px;background:#ebebeb"></div>
<div class="abs th" style="left:463px;top:321px">Applicant</div>
<div class="abs th" style="left:560px;top:321px;width:52px;text-align:right">GPA</div>
<div class="abs td" style="left:463px;top:347.8px">1</div><div class="abs td" style="left:488.8px;top:347.8px">Sharlene</div><div class="abs td" style="left:539.8px;top:347.8px">McArd</div><div class="abs td" style="left:560px;top:347.8px;width:51.6px;text-align:right">2.4</div>
<div class="abs" style="left:456px;top:360.30px;width:157px;height:1.05px;background:#959595"></div>
<div class="abs td" style="left:463px;top:364.8px">6</div><div class="abs td" style="left:488.8px;top:364.8px">Genny</div><div class="abs td" style="left:539.8px;top:364.8px">Cleynaert</div><div class="abs td" style="left:560px;top:364.8px;width:51.6px;text-align:right">2</div>
<div class="abs" style="left:456px;top:377.28px;width:157px;height:1.05px;background:#959595"></div>
<div class="abs td" style="left:463px;top:381.8px">7</div><div class="abs td" style="left:488.8px;top:381.8px">Vite</div><div class="abs td" style="left:539.8px;top:381.8px">Guterson</div><div class="abs td" style="left:560px;top:381.8px;width:51.6px;text-align:right">2.5</div>
<div class="abs" style="left:456px;top:394.26px;width:157px;height:1.05px;background:#959595"></div>
<div class="abs td" style="left:463px;top:398.9px">9</div><div class="abs td" style="left:488.8px;top:398.9px">Nobe</div><div class="abs td" style="left:539.8px;top:398.9px">Delieu</div><div class="abs td" style="left:560px;top:398.9px;width:51.6px;text-align:right">2.5</div>
<div class="abs" style="left:456px;top:411.24px;width:157px;height:1.05px;background:#959595"></div>
<div class="abs td" style="left:463px;top:415.9px">11</div><div class="abs td" style="left:488.8px;top:415.9px">Doy</div><div class="abs td" style="left:539.8px;top:415.9px">Ellissen</div><div class="abs td" style="left:560px;top:415.9px;width:51.6px;text-align:right">2.8</div>
<div class="abs" style="left:456px;top:428.22px;width:157px;height:1.05px;background:#959595"></div>

<!-- right panel -->
<div id="rp" class="abs"></div>

<!-- right panel content -->
<div class="abs" style="left:639.6px;top:30.1px;font-size:8.3px;line-height:10px;color:#2a2a2a;-webkit-text-stroke:0.2px #2a2a2a;white-space:nowrap">Auto Answers</div>
<svg class="abs" style="left:766px;top:29px" width="52" height="11" viewBox="766 29 52 11">
  <!-- clear/eraser -->
  <g stroke="#555" stroke-width="0.7" fill="none" stroke-linejoin="round" transform="translate(0 -0.7)">
    <path d="M769.4 35.6 L772 32.2 L773.8 33.6 L771.4 36.8 L769.9 36.8 Z"/>
    <path d="M770.6 34.2 L772.5 35.6"/>
    <path d="M769.6 36.9 H773.4"/>
  </g>
  <!-- pin -->
  <g transform="translate(785.1 34.3) scale(0.8) translate(-785 -34.7)"><path d="M784.4 31.6 L787.8 34.8 L786.9 35.1 L785.9 34.9 L784.9 36 L784.8 37.4 L783.9 36.5 L782.3 38 L782 37.7 L783.4 36.1 L782.2 34.9 L783.7 34.9 L784.8 33.8 L784.5 32.8 Z" fill="#333" stroke="#333" stroke-width="0.2" stroke-linejoin="round"/></g>
  <!-- expand -->
  <g fill="#333"><path d="M799.4 31.4 H801.8 V33.8 Z"/><path d="M796.6 34.3 V36.7 H799 Z"/></g>
  <!-- close -->
  <path d="M810.8 31.8 L814.8 35.8 M814.8 31.8 L810.8 35.8" stroke="#333" stroke-width="0.7"/>
</svg>
<!-- scrollbar -->
<div class="abs" style="left:816px;top:40.5px;width:2px;height:19.5px;background:#c6c6c6"></div>
<div class="abs" style="left:816px;top:60px;width:2px;height:291px;background:#5c6066"></div>
<!-- question bubble -->
<div class="abs" style="left:673.6px;top:43.4px;width:135.4px;height:42.3px;background:#e7f0ff;border-radius:4px"></div>
<div class="abs rt" style="left:680.4px;top:51.8px;line-height:9.55px">What is the projected<br><b>Actual</b> enrollment rate for the next 2<br><b>Year</b> ?</div>
<!-- answer card -->
<div class="abs" style="left:640px;top:94.3px;width:163.4px;height:257.5px;border:0.8px solid #e8e8e8;border-radius:4.5px;background:#fff;box-shadow:0 0.3px 1px rgba(0,0,0,0.05)"></div>
<div class="abs rt" style="left:646.7px;top:102.4px;line-height:9.7px">Based on the forecast analysis, the projected<br>Actual enrollment rate for the next 2 years is as<br>follows:</div>
<div class="abs" style="left:648.5px;top:138.0px;width:2.6px;height:2.6px;border-radius:50%;background:#2a2a2a"></div>
<div class="abs rt" style="left:656.7px;top:135.9px;line-height:9.7px">For the year 2024, the projected enrollment<br>rate is <b>73.00%</b> with a range of <b>70.74%</b> to<br><b>75.05%</b>.</div>
<div class="abs" style="left:648.5px;top:171.7px;width:2.6px;height:2.6px;border-radius:50%;background:#2a2a2a"></div>
<div class="abs rt" style="left:656.7px;top:169.6px;line-height:9.7px">For the year 2025, the projected enrollment<br>rate is <b>81.60%</b> with a range of <b>79.57%</b> to<br><b>83.73%</b>.</div>
<div class="abs rt" style="left:646.7px;top:203.0px;line-height:9.65px">Please note that these projections are based on<br>the available data and may be subject to<br>change.</div>
<svg class="abs" style="left:650px;top:236px" width="150" height="108" viewBox="650 236 150 108">
  <circle cx="788.7" cy="243" r="3.2" fill="none" stroke="#9a9a9a" stroke-width="0.6"/>
  <path d="M788.7 242.4 V244.9 M788.7 241 V241.6" stroke="#9a9a9a" stroke-width="0.6"/>
  <line x1="741.2" y1="259.3" x2="741.2" y2="326.2" stroke="#777" stroke-width="0.7" stroke-dasharray="0.9 0.9"/>
  <path d="M741.0 287.1 L760.6 274.0 L780.3 261.1 L780.3 265.5 L760.6 277.2 Z" fill="#c9d3e6" opacity="0.6"/>
  <polyline points="682.0,325.9 701.7,310.1 721.3,302.9 741.0,287.1" fill="none" stroke="#5b5f68" stroke-width="1.25" stroke-linejoin="round"/>
  <polyline points="741.0,287.1 760.6,275.6 780.3,263.3" fill="none" stroke="#4c5c7e" stroke-width="1.25" stroke-linejoin="round"/>
  <g font-family="'Liberation Sans',Arial,sans-serif" font-size="6.2" fill="#555"><text x="660.2" y="267.8">0.8</text><text x="660.2" y="282.1">0.7</text><text x="660.2" y="296.5">0.6</text><text x="660.2" y="310.8">0.5</text><text x="660.2" y="325.2">0.4</text>
    <text x="688.8" y="338" text-anchor="middle">2020</text>
    <text x="741.3" y="338" text-anchor="middle">2023</text>
    <text x="774" y="338" text-anchor="middle">2025</text>
  </g>
</svg>
<!-- related suggestions -->
<svg class="abs" style="left:740px;top:377px" width="75" height="10" viewBox="740 377 75 10">
  <path d="M742.8 379.8 L744.7 382 L742.8 384.2" stroke="#666" stroke-width="0.6" fill="none"/>
  <text x="749.3" y="384.1" font-family="'Liberation Sans',Arial,sans-serif" font-size="6" fill="#4a4a4a">Related Suggestions</text>
  <g stroke="#555" stroke-width="0.55" fill="none">
    <path d="M806.8 381.6 V380.6 H810.6 M809.7 379.6 L810.8 380.6 L809.7 381.6"/>
    <path d="M810.8 382.6 V383.6 H807 M807.9 382.6 L806.8 383.6 L807.9 384.6"/>
  </g>
</svg>
<!-- input -->
<div class="abs" style="left:638.9px;top:398.1px;width:174.6px;height:44.7px;border:0.9px solid #82b0f7;border-radius:4px;background:#fff;box-shadow:0 0 1.2px 0.2px rgba(90,150,245,0.3)"></div>
<div class="abs" style="left:646.2px;top:403.9px;font-size:6.95px;line-height:9px;color:#555;white-space:nowrap">Ask me a question.</div>
<svg class="abs" style="left:797px;top:428px" width="11" height="10" viewBox="797 428 11 10">
  <path d="M798 432.4 L806.6 429.2 L803.4 436.6 L802.2 433.6 Z M802.2 433.6 L806.6 429.2" stroke="#c4c4c4" stroke-width="0.6" fill="none" stroke-linejoin="round"/>
</svg>
</div></body>
</html>
